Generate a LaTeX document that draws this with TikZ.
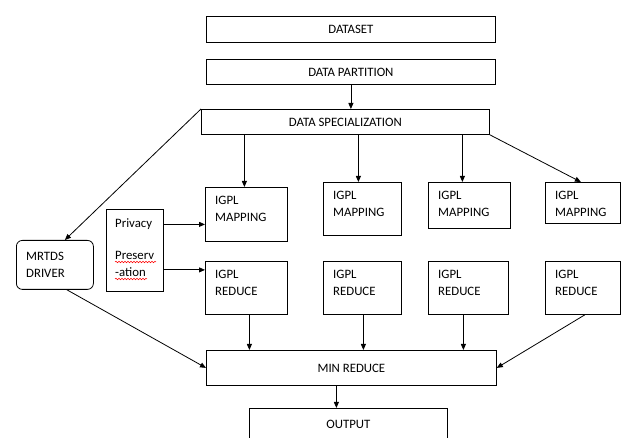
\documentclass[tikz,border=0pt]{standalone}
\usepackage{fontspec}
\setmainfont{Carlito}
\usetikzlibrary{arrows.meta,decorations.pathmorphing}

\tikzset{
  box/.style={draw, line width=0.8pt, inner sep=0pt, anchor=north west},
  boxtext/.style={anchor=north west, align=left, inner sep=0pt, xshift=10pt, yshift=-9pt},
  link/.style={->, line width=0.8pt},
  spell/.style={red, line width=0.5pt, decorate, decoration={snake, amplitude=0.8pt, segment length=3pt}}
}

\begin{document}
\begin{tikzpicture}[x=1pt, y=-1pt, >={Triangle[length=6pt,width=5pt]}, font=\fontsize{12.8}{17}\selectfont]
    \clip (0,0) rectangle (622,438);

    % Top chain
    \node[box, minimum width=289pt, minimum height=26pt] (data) at (206,16) {DATASET};
    \node[box, minimum width=289pt, minimum height=25pt] (part) at (206,59) {DATA PARTITION};
    \node[box, minimum width=288pt, minimum height=25pt] (spec) at (201,109) {DATA SPECIALIZATION};

    % Mapping boxes
    \node[box, minimum width=82pt, minimum height=54pt] (map1) at (205,187) {};
    \node[box, minimum width=78pt, minimum height=53pt] (map2) at (323,182) {};
    \node[box, minimum width=82pt, minimum height=46pt] (map3) at (428,182) {};
    \node[box, minimum width=75pt, minimum height=41pt] (map4) at (545,182) {};
    \node[boxtext] (map1t) at (map1.north west) {IGPL\\MAPPING};
    \node[boxtext] (map2t) at (map2.north west) {IGPL\\MAPPING};
    \node[boxtext] (map3t) at (map3.north west) {IGPL\\MAPPING};
    \node[boxtext] (map4t) at (map4.north west) {IGPL\\MAPPING};

    % Reduce boxes
    \node[box, minimum width=82pt, minimum height=53pt] (red1) at (205,261) {};
    \node[box, minimum width=78pt, minimum height=53pt] (red2) at (323,261) {};
    \node[box, minimum width=80pt, minimum height=53pt] (red3) at (428,261) {};
    \node[box, minimum width=75pt, minimum height=53pt] (red4) at (545,261) {};
    \node[boxtext] (red1t) at (red1.north west) {IGPL\\REDUCE};
    \node[boxtext] (red2t) at (red2.north west) {IGPL\\REDUCE};
    \node[boxtext] (red3t) at (red3.north west) {IGPL\\REDUCE};
    \node[boxtext] (red4t) at (red4.north west) {IGPL\\REDUCE};

    % Side boxes
    \node[box, rounded corners=6pt, minimum width=77pt, minimum height=49pt] (drv) at (16,240) {};
    \node[boxtext, yshift=-3pt] (drvt) at (drv.north west) {MRTDS\\DRIVER};
    \node[box, minimum width=57pt, minimum height=82pt] (priv) at (106,209) {};
    \node[boxtext, xshift=-1pt] (privt) at (priv.north west) {Privacy\\[15pt]Preserv\\-ation};
    \draw[spell] (115,262) -- (156,262);
    \draw[spell] (115,279) -- (147,279);

    % Bottom chain
    \node[box, minimum width=290pt, minimum height=35pt] (min) at (206,350) {MIN REDUCE};
    \node[box, minimum width=198pt, minimum height=40pt, text depth=8pt] (out) at (249,408) {OUTPUT};

    % Arrow anchors
    \coordinate (s1) at ([xshift=-2pt]map1.north);
    \coordinate (s2) at ([xshift=-4pt]map2.north);
    \coordinate (s3) at ([xshift=-7pt]map3.north);
    \coordinate (r1) at ([xshift=3pt]red1.south);
    \coordinate (r2) at ([xshift=1pt]red2.south);
    \coordinate (r3) at ([xshift=-5pt]red3.south);
    \coordinate (p1) at ([yshift=-10pt]map1.west);
    \coordinate (p2) at ([yshift=18pt]red1.west);
    \coordinate (m0) at ([xshift=-15pt]min.south);

    % Connectors
    \draw[link] (part.south) -- (part.south |- spec.north);
    \draw[link] (s1 |- spec.south) -- (s1);
    \draw[link] (s2 |- spec.south) -- (s2);
    \draw[link] (s3 |- spec.south) -- (s3);
    \draw[link] (spec.south east) -- ([xshift=-2pt]map4.north);
    \draw[link] (spec.north west) -- ([xshift=10pt]drv.north);
    \draw[link] (p1 -| priv.east) -- (p1);
    \draw[link] (p2 -| priv.east) -- (p2);
    \draw[link] (r1) -- (r1 |- min.north);
    \draw[link] (r2) -- (r2 |- min.north);
    \draw[link] (r3) -- (r3 |- min.north);
    \draw[link] ([xshift=2pt]red4.south) -- (min.east);
    \draw[link] ([xshift=12pt]drv.south) -- (min.west);
    \draw[link] (m0) -- (m0 |- out.north);
\end{tikzpicture}
\end{document}
